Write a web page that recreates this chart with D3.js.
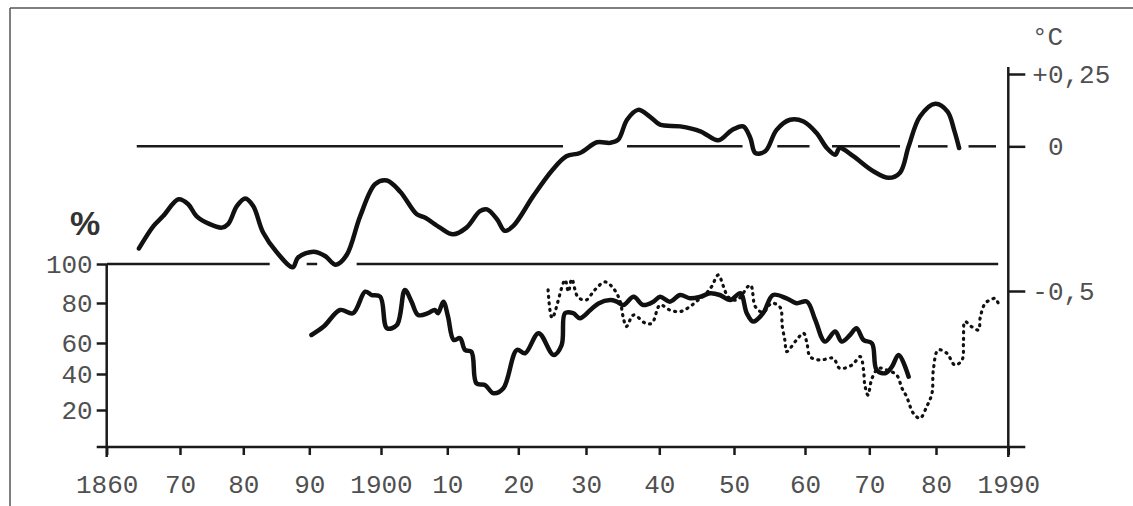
<!DOCTYPE html>
<html>
<head>
<meta charset="utf-8">
<script src="https://cdn.jsdelivr.net/npm/d3@7"></script>
<style>
  body { margin: 0; background: #fff; }
  .tick text { font-family: "Liberation Mono", monospace; font-size: 26px; fill: #505050; }
  .tick line { stroke: #1a1a1a; stroke-width: 2.5; }
</style>
</head>
<body>
<div class="chart"></div>
<script>

// axis ticks
const xTickYears = [1860, 1870, 1880, 1890, 1900, 1910, 1920, 1930, 1940, 1950, 1960, 1970, 1980, 1990];
const xTickLabels = ["1860", "70", "80", "90", "1900", "10", "20", "30", "40", "50", "60", "70", "80", "1990"];
const pctTicks = [20, 40, 60, 80, 100];
const tempTicks = [0.25, 0, -0.5];
const tempTickLabels = ["+0,25", "\u00a00", "-0,5"];

// temperature anomaly (°C), smoothed
const tempYears = [1864.4, 1866.4, 1867.7, 1869.8, 1871.3, 1872.6, 1874.7, 1876.6, 1877.6, 1879.0,
    1880.3, 1881.5, 1883.0, 1885.1, 1887.5, 1888.3, 1890.6, 1892.2, 1893.7, 1895.2,
    1897.1, 1899.2, 1900.9, 1902.9, 1905.4, 1906.6, 1908.9, 1910.8, 1912.7, 1914.6,
    1915.6, 1917.0, 1918.1, 1919.3, 1922.2, 1925.1, 1927.1, 1929.1, 1931.5, 1933.3,
    1934.4, 1935.6, 1937.1, 1938.7, 1940.1, 1942.8, 1945.5, 1947.9, 1949.7, 1951.3,
    1952.3, 1953.0, 1954.4, 1956.0, 1957.9, 1959.8, 1961.8, 1963.4, 1964.7, 1965.4,
    1967.5, 1970.6, 1972.9, 1974.6, 1975.9, 1977.6, 1979.9, 1981.6, 1982.5, 1983.2];
const tempValues = [-0.353, -0.275, -0.241, -0.183, -0.200, -0.241, -0.269, -0.281, -0.269, -0.206,
    -0.180, -0.206, -0.298, -0.367, -0.418, -0.384, -0.364, -0.379, -0.409, -0.376,
    -0.241, -0.130, -0.118, -0.157, -0.235, -0.246, -0.281, -0.304, -0.281, -0.224,
    -0.218, -0.252, -0.292, -0.275, -0.172, -0.080, -0.034, -0.023, 0.014, 0.012,
    0.023, 0.092, 0.126, 0.103, 0.075, 0.069, 0.052, 0.021, 0.056, 0.069,
    0.029, -0.023, -0.017, 0.057, 0.092, 0.086, 0.046, -0.006, -0.029, -0.006,
    -0.034, -0.086, -0.109, -0.091, 0.000, 0.103, 0.147, 0.120, 0.057, -0.006];

// percentage, solid series
const pctYears = [1890.3, 1892.0, 1894.3, 1896.1, 1897.8, 1898.7, 1899.9, 1900.9, 1902.4, 1903.6,
    1904.6, 1905.6, 1907.1, 1908.1, 1908.6, 1909.4, 1910.1, 1910.9, 1911.8, 1912.5,
    1913.4, 1914.1, 1915.3, 1916.5, 1917.9, 1919.8, 1921.0, 1923.0, 1925.2, 1926.4,
    1926.9, 1928.1, 1929.1, 1930.6, 1931.7, 1933.3, 1934.2, 1935.1, 1936.5, 1937.8,
    1939.2, 1940.1, 1941.4, 1942.8, 1944.1, 1945.5, 1946.8, 1948.1, 1949.5, 1950.9,
    1951.8, 1952.7, 1954.1, 1955.5, 1957.4, 1958.8, 1960.3, 1961.6, 1963.1, 1964.7,
    1965.7, 1967.0, 1968.0, 1969.1, 1970.4, 1971.1, 1972.4, 1973.4, 1974.4, 1975.9];
const pctValues = [64.0, 68.2, 76.5, 74.9, 85.8, 84.1, 83.2, 67.4, 69.0, 86.7,
    80.7, 74.0, 74.9, 76.5, 74.9, 80.7, 73.2, 61.5, 62.4, 55.5,
    54.4, 34.8, 33.9, 29.3, 32.1, 55.5, 53.4, 64.9, 52.3, 58.7,
    74.9, 74.9, 72.4, 76.5, 79.8, 81.5, 80.7, 79.0, 83.2, 79.0,
    80.7, 83.2, 80.7, 84.1, 82.4, 83.2, 85.0, 84.1, 81.5, 85.0,
    74.9, 70.7, 74.9, 84.1, 82.4, 79.9, 80.7, 71.5, 60.7, 65.7,
    60.7, 64.0, 67.4, 61.5, 59.8, 42.6, 40.5, 44.7, 52.3, 38.5];

// percentage, dotted series
const pctDotYears = [1924.4, 1925.0, 1926.9, 1927.4, 1927.9, 1928.8, 1930.0, 1931.2, 1932.6, 1933.7,
    1934.6, 1935.1, 1935.5, 1936.5, 1938.1, 1939.0, 1940.1, 1941.4, 1942.8, 1944.1,
    1945.2, 1946.3, 1947.0, 1947.9, 1948.6, 1949.2, 1950.4, 1952.3, 1953.0, 1954.1,
    1955.3, 1956.5, 1956.8, 1957.2, 1957.4, 1958.8, 1959.8, 1960.3, 1960.8, 1962.3,
    1964.4, 1965.4, 1967.3, 1968.6, 1969.1, 1969.3, 1969.8, 1970.4, 1971.4, 1972.6,
    1974.1, 1974.9, 1975.6, 1976.6, 1977.6, 1978.6, 1979.4, 1979.6, 1980.3, 1981.5,
    1982.6, 1983.6, 1983.8, 1984.0, 1984.9, 1985.9, 1986.1, 1986.8, 1987.5, 1988.2, 1988.6];
const pctDotValues = [86.7, 72.5, 91.8, 85.8, 92.3, 83.1, 81.5, 86.7, 90.8, 87.7,
    81.5, 72.5, 68.2, 74.0, 69.9, 69.9, 79.0, 76.5, 75.7, 78.2,
    81.5, 85.0, 88.4, 94.4, 88.4, 83.2, 81.5, 89.2, 78.2, 75.3,
    79.9, 77.8, 68.2, 60.7, 54.4, 61.5, 64.9, 59.8, 51.2, 49.0,
    50.1, 43.7, 45.8, 51.2, 42.6, 33.9, 28.3, 37.6, 43.7, 42.6,
    39.4, 32.1, 27.4, 18.3, 15.6, 21.8, 29.3, 42.6, 55.5, 53.4,
    45.8, 49.0, 61.5, 70.7, 68.2, 66.5, 72.4, 79.9, 81.5, 82.4, 79.9];

// reference lines (broken where the curve crosses)
const zeroLineSpans = [[1864.1, 1926.6], [1935.6, 1951.2], [1956.1, 1960.7], [1964.2, 1974.6], [1977.3, 1981.6], [1984.5, 1988.3]];
const topLineSpans = [[1860, 1884.0], [1889.6, 1891.1], [1896.6, 1988.6]];


const svg = d3.select(".chart")
    .append("svg")
    .attr("width", 1133)
    .attr("height", 506);

// hand drawn axis: tick spacing is not quite even
const xScale = d3.scaleLinear()
    .domain(xTickYears)
    .range([106.7, 180, 243.3, 309.3, 381, 447.3, 518.3, 586, 659.3, 734, 805, 869.3, 936, 1008.3]);
const pctScale = d3.scaleLinear()
    .domain([0, 20, 40, 60, 80, 100])
    .range([448, 410, 374, 343, 303, 264]);
const tempScale = d3.scaleLinear()
    .domain([-0.5, 0.25])
    .range([291, 74]);

// frame
svg.append("line").attr("x1", 10).attr("x2", 1133).attr("y1", 8).attr("y2", 8)
    .attr("stroke", "#555").attr("stroke-width", 1.5);
svg.append("line").attr("x1", 10).attr("x2", 10).attr("y1", 8).attr("y2", 506)
    .attr("stroke", "#555").attr("stroke-width", 1.5);

// axes
svg.append("g")
    .attr("transform", `translate(0, ${pctScale(0) - 1})`)
    .call(d3.axisBottom(xScale).tickValues(xTickYears).tickFormat((d, i) => xTickLabels[i]).tickSize(8).tickPadding(20))
    .call(g => g.select(".domain").remove());

svg.append("g")
    .attr("transform", `translate(${xScale(1860)}, 0)`)
    .call(d3.axisLeft(pctScale).tickValues(pctTicks).tickSize(10).tickPadding(4))
    .call(g => g.select(".domain").remove());

svg.append("g")
    .attr("transform", `translate(${xScale(1990)}, 0)`)
    .call(d3.axisRight(tempScale).tickValues(tempTicks).tickFormat((d, i) => tempTickLabels[i]).tickSize(17).tickPadding(7))
    .call(g => g.select(".domain").remove());

const axisLines = svg.append("g").attr("stroke", "#1a1a1a").attr("stroke-width", 2.5);
axisLines.append("line")
    .attr("x1", xScale(1860) - 10).attr("x2", xScale(1990) + 17)
    .attr("y1", pctScale(0) - 1).attr("y2", pctScale(0) - 1);
axisLines.append("line")
    .attr("x1", xScale(1860)).attr("x2", xScale(1860))
    .attr("y1", pctScale(100)).attr("y2", pctScale(0) + 9);
axisLines.append("line")
    .attr("x1", xScale(1990)).attr("x2", xScale(1990))
    .attr("y1", tempScale(0.25) - 7).attr("y2", pctScale(0) + 9);

// reference lines
svg.append("g").selectAll("line")
    .data(zeroLineSpans)
    .enter()
    .append("line")
    .attr("x1", d => xScale(d[0]))
    .attr("x2", d => xScale(d[1]))
    .attr("y1", tempScale(0))
    .attr("y2", tempScale(0))
    .attr("stroke", "#1a1a1a")
    .attr("stroke-width", 2.5);

svg.append("g").selectAll("line")
    .data(topLineSpans)
    .enter()
    .append("line")
    .attr("x1", d => xScale(d[0]))
    .attr("x2", d => xScale(d[1]))
    .attr("y1", pctScale(100))
    .attr("y2", pctScale(100))
    .attr("stroke", "#1a1a1a")
    .attr("stroke-width", 2.5);

// curves
const tempLine = d3.line()
    .x((d, i) => xScale(tempYears[i]))
    .y(d => tempScale(d))
    .curve(d3.curveCatmullRom.alpha(0.5));

const pctLine = d3.line()
    .x(d => xScale(d[0]))
    .y(d => pctScale(d[1]))
    .curve(d3.curveCatmullRom.alpha(0.5));

svg.append("path")
    .attr("d", tempLine(tempValues))
    .attr("fill", "none")
    .attr("stroke", "#111")
    .attr("stroke-width", 4.5)
    .attr("stroke-linejoin", "round")
    .attr("stroke-linecap", "round");

svg.append("path")
    .attr("d", pctLine(d3.zip(pctYears, pctValues)))
    .attr("fill", "none")
    .attr("stroke", "#111")
    .attr("stroke-width", 4.5)
    .attr("stroke-linejoin", "round")
    .attr("stroke-linecap", "round");

svg.append("path")
    .attr("d", pctLine(d3.zip(pctDotYears, pctDotValues)))
    .attr("fill", "none")
    .attr("stroke", "#111")
    .attr("stroke-width", 3.2)
    .attr("stroke-dasharray", "1 5.5")
    .attr("stroke-linecap", "round");

// unit labels
svg.append("text")
    .attr("x", 70)
    .attr("y", 235)
    .style("font-family", "'Liberation Sans', Arial, sans-serif")
    .style("font-weight", "bold")
    .style("font-size", "34px")
    .style("fill", "#333")
    .text("%");

svg.append("text")
    .attr("x", 1032)
    .attr("y", 45)
    .style("font-family", "'Liberation Mono', monospace")
    .style("font-size", "26px")
    .style("fill", "#505050")
    .text("°C");

</script>
</body>
</html>
